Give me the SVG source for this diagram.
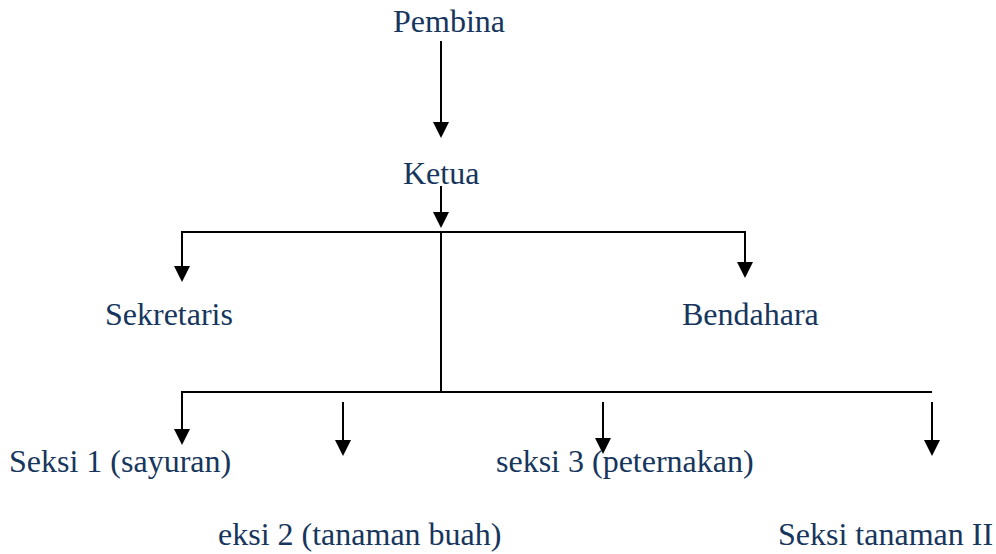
<svg xmlns="http://www.w3.org/2000/svg" width="996" height="554" viewBox="0 0 996 554">
<style>
.t{font-family:"Liberation Serif","Times New Roman",serif;font-size:32px;fill:#17365D}
.c{stroke:#000;stroke-width:2;fill:none}
</style>
<defs>
<marker id="ah" markerUnits="userSpaceOnUse" viewBox="0 0 16 16" markerWidth="16" markerHeight="16" refX="0" refY="8" orient="auto">
<path d="M0,0 L16,8 L0,16 z" fill="#000"/>
</marker>
</defs>
<rect width="996" height="554" fill="#fff"/>
<g id="connectors">
<line class="c" x1="441" y1="41" x2="441" y2="122" marker-end="url(#ah)"/>
<line class="c" x1="441" y1="186" x2="441" y2="212" marker-end="url(#ah)"/>
<polyline class="c" points="182,266 182,232 745,232 745,262"/>
<line class="c" x1="182" y1="250" x2="182" y2="266" marker-end="url(#ah)"/>
<line class="c" x1="745" y1="250" x2="745" y2="262" marker-end="url(#ah)"/>
<line class="c" x1="441" y1="232" x2="441" y2="392"/>
<polyline class="c" points="182,429 182,392 932,392"/>
<line class="c" x1="182" y1="410" x2="182" y2="429" marker-end="url(#ah)"/>
<line class="c" x1="343" y1="402" x2="343" y2="440" marker-end="url(#ah)"/>
<line class="c" x1="603" y1="402" x2="603" y2="438" marker-end="url(#ah)"/>
<line class="c" x1="932" y1="402" x2="932" y2="440" marker-end="url(#ah)"/>
</g>
<g id="pembina"><text class="t" x="393" y="32">Pembina</text></g>
<g id="ketua"><text class="t" x="403" y="184">Ketua</text></g>
<g id="sekretaris"><text class="t" x="105" y="325">Sekretaris</text></g>
<g id="bendahara"><text class="t" x="682" y="325">Bendahara</text></g>
<g id="seksi1"><text class="t" x="9" y="472">Seksi 1 (sayuran)</text></g>
<g id="seksi3"><text class="t" x="496" y="472">seksi 3 (peternakan)</text></g>
<g id="seksi2"><text class="t" x="218" y="545">eksi 2 (tanaman buah)</text></g>
<g id="seksi4"><text class="t" x="778" y="545">Seksi tanaman II</text></g>
</svg>
